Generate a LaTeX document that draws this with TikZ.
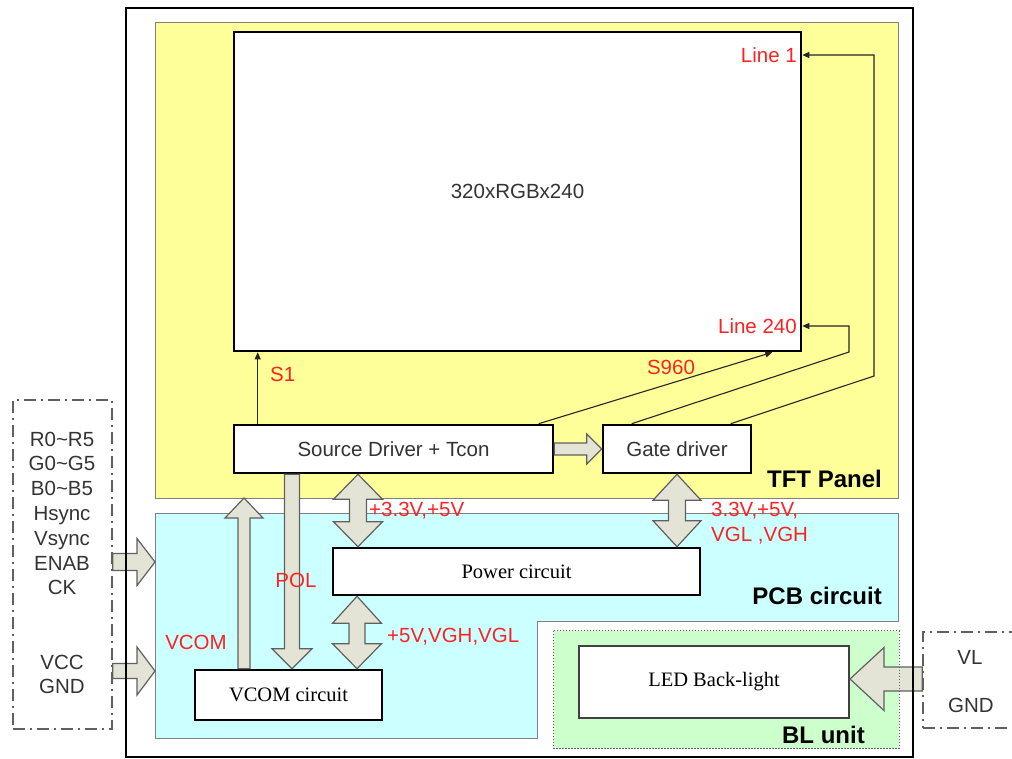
\documentclass[tikz,border=0pt]{standalone}
\usepackage{fontspec}
\setmainfont{Liberation Serif}
\setsansfont{Liberation Sans}
\usetikzlibrary{arrows.meta,calc}
\definecolor{tftyellow}{HTML}{FFFF99}
\definecolor{pcbcyan}{HTML}{CCFFFF}
\definecolor{blgreen}{HTML}{CCFFCC}
\definecolor{arrowfill}{HTML}{E4E4D6}
\definecolor{arrowedge}{HTML}{606060}
\definecolor{tred}{RGB}{250,35,35}
\definecolor{textgray}{HTML}{333333}
\definecolor{edgegray}{HTML}{808080}
\newcommand{\bkvdouble}[6]{%
  \filldraw[blk] let \p1=#1, \p2=#2 in
   ({\x1},{\y1}) -- ({\x1+#3pt},{\y1-#5pt}) -- ({\x1+#4pt},{\y1-#5pt}) --
   ({\x1+#4pt},{\y2+#6pt}) -- ({\x1+#3pt},{\y2+#6pt}) -- ({\x1},{\y2}) --
   ({\x1-#3pt},{\y2+#6pt}) -- ({\x1-#4pt},{\y2+#6pt}) -- ({\x1-#4pt},{\y1-#5pt}) --
   ({\x1-#3pt},{\y1-#5pt}) -- cycle;}
\newcommand{\bkvsingle}[6]{%
  \filldraw[blk] let \p1=#1, \p2=#2 in
   ({\x2-#4pt},{\y1}) -- ({\x2-#4pt},{\y2+(#6)*#5pt}) -- ({\x2-#3pt},{\y2+(#6)*#5pt}) --
   ({\x2},{\y2}) -- ({\x2+#3pt},{\y2+(#6)*#5pt}) -- ({\x2+#4pt},{\y2+(#6)*#5pt}) --
   ({\x2+#4pt},{\y1}) -- cycle;}
\newcommand{\bkhsingle}[6]{%
  \filldraw[blk] let \p1=#1, \p2=#2 in
   ({\x1},{\y2+#4pt}) -- ({\x2-(#6)*#5pt},{\y2+#4pt}) -- ({\x2-(#6)*#5pt},{\y2+#3pt}) --
   ({\x2},{\y2}) -- ({\x2-(#6)*#5pt},{\y2-#3pt}) -- ({\x2-(#6)*#5pt},{\y2-#4pt}) --
   ({\x1},{\y2-#4pt}) -- cycle;}
\begin{document}
\begin{tikzpicture}[x=1pt,y=-1pt,
  box/.style={draw=black, line width=2.6pt, fill=white, inner sep=0pt,
    font=\sffamily\fontsize{20.5pt}{24pt}\selectfont, text=textgray},
  sbox/.style={box, font=\rmfamily\fontsize{20.5pt}{24pt}\selectfont, text=black},
  blk/.style={draw=arrowedge, line width=1.2pt, fill=arrowfill, line join=miter},
  conn/.style={draw=black!85, line width=1.1pt, -{Triangle[length=7pt,width=6pt]}},
  lbl/.style={text=tred, font=\sffamily\fontsize{20.5pt}{25pt}\selectfont, inner sep=0pt},
  ttl/.style={text=black, font=\sffamily\bfseries\fontsize{24pt}{28pt}\selectfont, inner sep=0pt},
  iotxt/.style={text=textgray, font=\sffamily\fontsize{20.5pt}{24.8pt}\selectfont, inner sep=0pt, align=center},
  iobox/.style={draw=arrowedge, line width=1.4pt, dash pattern=on 12pt off 5pt on 2pt off 5pt, inner sep=0pt},
  bldot/.style={draw=arrowedge, line width=1.2pt, dash pattern=on 1.5pt off 1.5pt}
]
\useasboundingbox (0,0) rectangle (1012,758);
% regions
\node[draw=edgegray, line width=0.8pt, fill=tftyellow, minimum width=743pt, minimum height=476pt, inner sep=0pt] (tft) at (526.5,260) {};
\draw[draw=edgegray, line width=0.8pt, fill=pcbcyan] (155,513) -- (898,513) -- (898,621) -- (537,621) -- (537,738) -- (155,738) -- cycle;
\node[fill=blgreen, minimum width=345pt, minimum height=117pt, inner sep=0pt] (bl) at (726.5,689.5) {};
\coordinate (pcbin1) at (155,562);
\coordinate (pcbin2) at (155,671);
\coordinate (vcomtip) at (244,498);
% boxes
\node[box, minimum width=567pt, minimum height=319pt] (panel) at (517.5,191.5) {320xRGBx240};
\node[box, minimum width=319pt, minimum height=48pt] (src) at (393.5,449) {Source Driver + Tcon};
\node[box, minimum width=148pt, minimum height=48pt] (gate) at (677,449) {Gate driver};
\node[sbox, minimum width=367pt, minimum height=47pt] (power) at (516.5,571.5) {Power circuit};
\node[sbox, minimum width=187pt, minimum height=50pt] (vcom) at (288.5,695) {VCOM circuit};
\node[sbox, draw=black!75, line width=2pt, minimum width=270pt, minimum height=72pt] (led) at (714,682) {LED Back-light};
% io boxes
\node[iobox, minimum width=99pt, minimum height=329pt] (lbox) at (62.5,564.5) {};
\node[iobox, minimum width=97pt, minimum height=96pt] (rbox) at (971.5,680) {};
\node[iotxt] (sigs) at (62,513.5) {R0\textasciitilde R5\\G0\textasciitilde G5\\B0\textasciitilde B5\\Hsync\\Vsync\\ENAB\\CK};
\node[iotxt] (pwrin) at (62,674.5) {VCC\\GND};
\node[iotxt] (vl) at (970,657) {VL};
\node[iotxt] (gndr) at (971,705) {GND};
% thin connectors
\draw[conn] ([xshift=25pt]src.north west) -- ([xshift=25pt]src.north west |- panel.south);
\draw[conn] ([xshift=306pt]src.north west) -- ([xshift=-30pt]panel.south east);
\draw[conn] ([xshift=30pt]gate.north west) -- (849,352) -- (849,326) -- (panel.east |- 849,326);
\draw[conn] ([xshift=129pt]gate.north west) -- (874,376) -- (874,55) -- (panel.east |- 874,55);
% block arrows
\bkhsingle{(src.east)}{(gate.west)}{15}{6}{15}{1}
\bkvdouble{(src.south -| 358,0)}{(power.north -| 358,0)}{24.5}{8.5}{25}{25}
\bkvdouble{(gate.south -| 677,0)}{(power.north -| 677,0)}{24}{8.5}{26}{26}
\bkvdouble{(power.south -| 357,0)}{(vcom.north -| 357,0)}{24.5}{8}{27}{25}
\bkvsingle{(src.south -| 292,0)}{(vcom.north -| 292,0)}{20}{7.5}{20}{1}
\bkvsingle{(vcom.north -| 244,0)}{(vcomtip)}{19}{6}{20}{-1}
\bkhsingle{(lbox.east |- pcbin1)}{(pcbin1)}{23.5}{8.5}{18}{1}
\bkhsingle{(lbox.east |- pcbin2)}{(pcbin2)}{24}{7.5}{18}{1}
\bkhsingle{(rbox.west |- 0,679)}{(led.east |- 0,679)}{31.5}{12}{34}{-1}
% borders drawn on top
\draw[bldot] (bl.north west) rectangle (bl.south east);
\node[draw=black, line width=2.5pt, minimum width=787pt, minimum height=749pt, inner sep=0pt] (outer) at (519.5,382.5) {};
% labels
\node[lbl, anchor=east] (l1) at (797,55) {Line 1};
\node[lbl, anchor=east] (l240) at (797,326) {Line 240};
\node[lbl, anchor=west] (s1) at (270,374) {S1};
\node[lbl] (s960) at (671,367) {S960};
\node[lbl, anchor=west] (v1) at (369,511) {+3.3V,+5V};
\node[lbl, anchor=west, align=left] (v2) at (711,523) {3.3V,+5V,\\VGL ,VGH};
\node[lbl] (pol) at (296,580) {POL};
\node[lbl] (vcoml) at (196,642) {VCOM};
\node[lbl, anchor=west] (v3) at (387,637) {+5V,VGH,VGL};
\node[ttl, anchor=east] (tftl) at (882,479) {TFT Panel};
\node[ttl, anchor=east] (pcbl) at (882,596) {PCB circuit};
\node[ttl, anchor=east] (bll) at (865,735) {BL unit};
\end{tikzpicture}
\end{document}
